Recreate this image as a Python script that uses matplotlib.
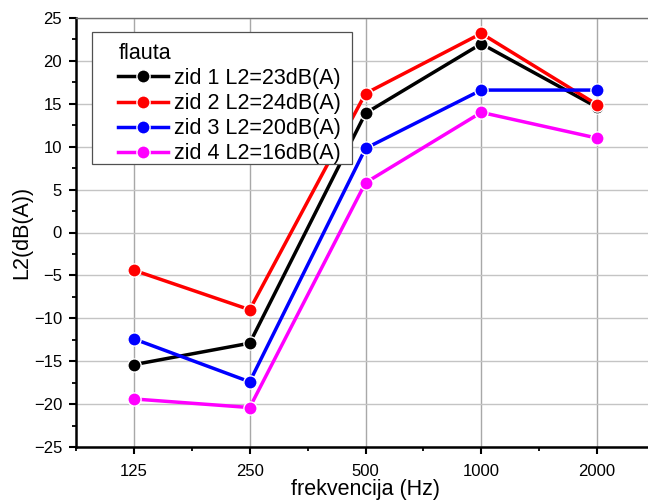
import matplotlib
matplotlib.use("Agg")
import matplotlib.pyplot as plt
from matplotlib.patches import Rectangle
from matplotlib.ticker import MultipleLocator, FixedLocator

plt.rcParams['font.family'] = ['Liberation Sans', 'DejaVu Sans']

frequencies = ["125", "250", "500", "1000", "2000"]
zid1 = [-15.4, -12.9, 13.9, 22.0, 14.6]
zid2 = [-4.4, -9.0, 16.2, 23.2, 14.9]
zid3 = [-12.4, -17.4, 9.8, 16.6, 16.6]
zid4 = [-19.4, -20.4, 5.8, 14.0, 11.0]
series_labels = ["zid 1 L2=23dB(A)", "zid 2 L2=24dB(A)",
                 "zid 3 L2=20dB(A)", "zid 4 L2=16dB(A)"]
series_colors = ["#000000", "#ff0000", "#0000ff", "#ff00ff"]
legend_title = "flauta"

fig = plt.figure(figsize=(6.48, 5.03), dpi=100)
ax = fig.add_axes([76 / 648, 1 - 447 / 503, 579 / 648, 429 / 503])

x = list(range(len(frequencies)))
for vals, lab, col in zip([zid1, zid2, zid3, zid4], series_labels, series_colors):
    ax.plot(x, vals, color=col, lw=2.5, marker='o', markersize=9.5,
            markerfacecolor=col, markeredgecolor='white', markeredgewidth=1.0,
            label=lab, zorder=3)

ax.set_xlim(-0.5, 4.5)
ax.set_ylim(-25, 25)
ax.set_xticks(x)
ax.set_xticklabels(frequencies)
ax.xaxis.set_minor_locator(FixedLocator([i + 0.5 for i in range(-1, 5)]))
ax.yaxis.set_major_locator(MultipleLocator(5))
ax.yaxis.set_minor_locator(MultipleLocator(2.5))

ax.grid(True, axis='y', which='major', color='#c4c4c4', lw=1.0, zorder=0)
ax.grid(True, axis='x', which='major', color='#a8a8a8', lw=1.0, zorder=0)
ax.set_axisbelow(True)

for side in ['left', 'bottom']:
    ax.spines[side].set_linewidth(1.8)
    ax.spines[side].set_color('black')
ax.spines['top'].set_linewidth(1.0)
ax.spines['top'].set_color('#707070')
ax.spines['right'].set_visible(False)

ax.tick_params(axis='both', which='major', direction='out', length=5, width=1.5,
               labelsize=12, colors='black')
ax.tick_params(axis='both', which='minor', direction='out', length=3, width=1.3)
ax.tick_params(axis='x', which='major', pad=7)
ax.tick_params(axis='y', which='major', pad=5)

ax.set_xlabel("frekvencija (Hz)", fontsize=15.5, labelpad=0)
ax.set_ylabel("L2(dB(A))", fontsize=15.5, labelpad=1)

# legend entries without their own frame; the box is drawn separately
leg = ax.legend(title=legend_title, loc='upper left', bbox_to_anchor=(0.073, 0.942),
                fontsize=15.5, title_fontsize=15.5, frameon=False,
                handlelength=2.3, handletextpad=0.3, labelspacing=0.19,
                borderpad=0, borderaxespad=0)
leg._legend_box.align = "left"
leg.set_zorder(6)
ax.add_patch(Rectangle((0.0276, 0.6597), 0.4491, 0.3077, transform=ax.transAxes,
                       facecolor='white', edgecolor='#505050', lw=0.9, zorder=5))

fig.savefig("out.png", dpi=100)
